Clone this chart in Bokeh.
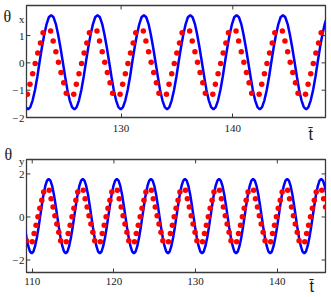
from bokeh.plotting import figure
from bokeh.models import Range1d, LinearAxis, FixedTicker, Label
from bokeh.layouts import column
from bokeh.embed import file_html
from bokeh.resources import INLINE

# ---------------- data: top panel (theta_x) ----------------
tx_blue = [
    121.46, 121.67, 121.87, 122.08, 122.29, 122.50, 122.70, 122.91, 123.12, 123.33, 123.53,
    123.74, 123.95, 124.16, 124.36, 124.57, 124.78, 124.99, 125.19, 125.40, 125.61,
    125.82, 126.02, 126.23, 126.44, 126.65, 126.85, 127.06, 127.27, 127.48, 127.68,
    127.89, 128.10, 128.31, 128.51, 128.72, 128.93, 129.14, 129.34, 129.55, 129.76,
    129.97, 130.17, 130.38, 130.59, 130.80, 131.00, 131.21, 131.42, 131.63, 131.83,
    132.04, 132.25, 132.46, 132.66, 132.87, 133.08, 133.29, 133.49, 133.70, 133.91,
    134.12, 134.32, 134.53, 134.74, 134.95, 135.15, 135.36, 135.57, 135.78, 135.98,
    136.19, 136.40, 136.61, 136.81, 137.02, 137.23, 137.44, 137.64, 137.85, 138.06,
    138.27, 138.47, 138.68, 138.89, 139.10, 139.30, 139.51, 139.72, 139.93, 140.13,
    140.34, 140.55, 140.76, 140.96, 141.17, 141.38, 141.59, 141.79, 142.00, 142.21,
    142.42, 142.62, 142.83, 143.04, 143.25, 143.45, 143.66, 143.87, 144.08, 144.28,
    144.49, 144.70, 144.91, 145.11, 145.32, 145.53, 145.74, 145.94, 146.15, 146.36,
    146.57, 146.77, 146.98, 147.19, 147.40, 147.60, 147.81, 148.02, 148.23, 148.43,
]
thx_blue = [
    -1.62, -1.70, -1.62, -1.37, -0.99, -0.51, 0.03, 0.56, 1.04, 1.42, 1.67,
    1.75, 1.67, 1.42, 1.04, 0.56, 0.03, -0.51, -0.99, -1.37, -1.62,
    -1.70, -1.62, -1.37, -0.99, -0.51, 0.03, 0.56, 1.04, 1.42, 1.67,
    1.75, 1.67, 1.42, 1.04, 0.56, 0.03, -0.51, -0.99, -1.37, -1.62,
    -1.70, -1.62, -1.37, -0.99, -0.51, 0.03, 0.56, 1.04, 1.42, 1.67,
    1.75, 1.67, 1.42, 1.04, 0.56, 0.03, -0.51, -0.99, -1.37, -1.62,
    -1.70, -1.62, -1.37, -0.99, -0.51, 0.03, 0.56, 1.04, 1.42, 1.67,
    1.75, 1.67, 1.42, 1.04, 0.56, 0.03, -0.51, -0.99, -1.37, -1.62,
    -1.70, -1.62, -1.37, -0.99, -0.51, 0.03, 0.56, 1.04, 1.42, 1.67,
    1.75, 1.67, 1.42, 1.04, 0.56, 0.03, -0.51, -0.99, -1.37, -1.62,
    -1.70, -1.62, -1.37, -0.99, -0.51, 0.03, 0.56, 1.04, 1.42, 1.67,
    1.75, 1.67, 1.42, 1.04, 0.56, 0.03, -0.51, -0.99, -1.37, -1.62,
    -1.70, -1.62, -1.37, -0.99, -0.51, 0.03, 0.56, 1.04, 1.42, 1.67,
]
tx_red = [
    121.61, 121.84, 122.08, 122.31, 122.54, 122.78, 123.01, 123.69, 123.92, 124.16, 124.39, 124.62, 124.86, 125.09,
    125.76, 125.99, 126.23, 126.46, 126.69, 126.93, 127.16, 127.84, 128.07, 128.31, 128.54, 128.77, 129.01, 129.24,
    129.91, 130.14, 130.38, 130.61, 130.84, 131.08, 131.31, 131.99, 132.22, 132.46, 132.69, 132.92, 133.16, 133.39,
    134.06, 134.29, 134.53, 134.76, 134.99, 135.23, 135.46, 136.14, 136.37, 136.61, 136.84, 137.07, 137.31, 137.54,
    138.21, 138.44, 138.68, 138.91, 139.14, 139.38, 139.61, 140.29, 140.52, 140.76, 140.99, 141.22, 141.46, 141.69,
    142.36, 142.59, 142.83, 143.06, 143.29, 143.53, 143.76, 144.44, 144.67, 144.91, 145.14, 145.37, 145.61, 145.84,
    146.51, 146.74, 146.98, 147.21, 147.44, 147.68, 147.91,
]
thx_red = [
    -1.15, -0.78, -0.40, -0.02, 0.36, 0.73, 1.10, 1.17, 0.80, 0.41, 0.02, -0.35, -0.73, -1.11,
    -1.15, -0.78, -0.40, -0.02, 0.36, 0.73, 1.10, 1.17, 0.80, 0.41, 0.02, -0.35, -0.73, -1.11,
    -1.15, -0.78, -0.40, -0.02, 0.36, 0.73, 1.10, 1.17, 0.80, 0.41, 0.02, -0.35, -0.73, -1.11,
    -1.15, -0.78, -0.40, -0.02, 0.36, 0.73, 1.10, 1.17, 0.80, 0.41, 0.02, -0.35, -0.73, -1.11,
    -1.15, -0.78, -0.40, -0.02, 0.36, 0.73, 1.10, 1.17, 0.80, 0.41, 0.02, -0.35, -0.73, -1.11,
    -1.15, -0.78, -0.40, -0.02, 0.36, 0.73, 1.10, 1.17, 0.80, 0.41, 0.02, -0.35, -0.73, -1.11,
    -1.15, -0.78, -0.40, -0.02, 0.36, 0.73, 1.10,
]

# ---------------- data: bottom panel (theta_y) ----------------
ty_blue = [
    109.10, 109.31, 109.52, 109.73, 109.94, 110.14, 110.35, 110.56, 110.77, 110.98, 111.19, 111.39, 111.60, 111.81,
    112.02, 112.23, 112.44, 112.65, 112.85, 113.06, 113.27, 113.48, 113.69, 113.90,
    114.11, 114.31, 114.52, 114.73, 114.94, 115.15, 115.36, 115.56, 115.77, 115.98,
    116.19, 116.40, 116.61, 116.82, 117.02, 117.23, 117.44, 117.65, 117.86, 118.07,
    118.28, 118.48, 118.69, 118.90, 119.11, 119.32, 119.53, 119.73, 119.94, 120.15,
    120.36, 120.57, 120.78, 120.99, 121.19, 121.40, 121.61, 121.82, 122.03, 122.24,
    122.45, 122.65, 122.86, 123.07, 123.28, 123.49, 123.70, 123.90, 124.11, 124.32,
    124.53, 124.74, 124.95, 125.16, 125.36, 125.57, 125.78, 125.99, 126.20, 126.41,
    126.62, 126.82, 127.03, 127.24, 127.45, 127.66, 127.87, 128.07, 128.28, 128.49,
    128.70, 128.91, 129.12, 129.33, 129.53, 129.74, 129.95, 130.16, 130.37, 130.58,
    130.79, 130.99, 131.20, 131.41, 131.62, 131.83, 132.04, 132.24, 132.45, 132.66,
    132.87, 133.08, 133.29, 133.50, 133.70, 133.91, 134.12, 134.33, 134.54, 134.75,
    134.96, 135.16, 135.37, 135.58, 135.79, 136.00, 136.21, 136.41, 136.62, 136.83,
    137.04, 137.25, 137.46, 137.67, 137.87, 138.08, 138.29, 138.50, 138.71, 138.92,
    139.13, 139.33, 139.54, 139.75, 139.96, 140.17, 140.38, 140.58, 140.79, 141.00,
    141.21, 141.42, 141.63, 141.84, 142.04, 142.25, 142.46, 142.67, 142.88, 143.09,
    143.30, 143.50, 143.71, 143.92, 144.13, 144.34, 144.55, 144.75, 144.96, 145.17,
    145.38, 145.59, 145.80, 146.01,
]
thy_blue = [
    -0.50, -0.98, -1.36, -1.61, -1.69, -1.61, -1.36, -0.98, -0.50, 0.04, 0.58, 1.06, 1.44, 1.69,
    1.77, 1.69, 1.44, 1.06, 0.58, 0.04, -0.50, -0.98, -1.36, -1.61,
    -1.69, -1.61, -1.36, -0.98, -0.50, 0.04, 0.58, 1.06, 1.44, 1.69,
    1.77, 1.69, 1.44, 1.06, 0.58, 0.04, -0.50, -0.98, -1.36, -1.61,
    -1.69, -1.61, -1.36, -0.98, -0.50, 0.04, 0.58, 1.06, 1.44, 1.69,
    1.77, 1.69, 1.44, 1.06, 0.58, 0.04, -0.50, -0.98, -1.36, -1.61,
    -1.69, -1.61, -1.36, -0.98, -0.50, 0.04, 0.58, 1.06, 1.44, 1.69,
    1.77, 1.69, 1.44, 1.06, 0.58, 0.04, -0.50, -0.98, -1.36, -1.61,
    -1.69, -1.61, -1.36, -0.98, -0.50, 0.04, 0.58, 1.06, 1.44, 1.69,
    1.77, 1.69, 1.44, 1.06, 0.58, 0.04, -0.50, -0.98, -1.36, -1.61,
    -1.69, -1.61, -1.36, -0.98, -0.50, 0.04, 0.58, 1.06, 1.44, 1.69,
    1.77, 1.69, 1.44, 1.06, 0.58, 0.04, -0.50, -0.98, -1.36, -1.61,
    -1.69, -1.61, -1.36, -0.98, -0.50, 0.04, 0.58, 1.06, 1.44, 1.69,
    1.77, 1.69, 1.44, 1.06, 0.58, 0.04, -0.50, -0.98, -1.36, -1.61,
    -1.69, -1.61, -1.36, -0.98, -0.50, 0.04, 0.58, 1.06, 1.44, 1.69,
    1.77, 1.69, 1.44, 1.06, 0.58, 0.04, -0.50, -0.98, -1.36, -1.61,
    -1.69, -1.61, -1.36, -0.98, -0.50, 0.04, 0.58, 1.06, 1.44, 1.69,
    1.77, 1.69, 1.44, 1.06,
]
ty_red = [
    109.31,
    110.00, 110.23, 110.47, 110.70, 110.93, 111.17, 111.40, 112.08, 112.31, 112.55, 112.78, 113.01, 113.25, 113.48,
    114.17, 114.40, 114.64, 114.87, 115.10, 115.34, 115.57, 116.25, 116.48, 116.72, 116.95, 117.18, 117.42, 117.65,
    118.34, 118.57, 118.81, 119.04, 119.27, 119.51, 119.74, 120.42, 120.65, 120.89, 121.12, 121.35, 121.59, 121.82,
    122.51, 122.74, 122.98, 123.21, 123.44, 123.68, 123.91, 124.59, 124.82, 125.06, 125.29, 125.52, 125.76, 125.99,
    126.68, 126.91, 127.15, 127.38, 127.61, 127.85, 128.08, 128.76, 128.99, 129.23, 129.46, 129.69, 129.93, 130.16,
    130.85, 131.08, 131.32, 131.55, 131.78, 132.02, 132.25, 132.93, 133.16, 133.40, 133.63, 133.86, 134.10, 134.33,
    135.02, 135.25, 135.49, 135.72, 135.95, 136.19, 136.42, 137.10, 137.33, 137.57, 137.80, 138.03, 138.27, 138.50,
    139.19, 139.42, 139.66, 139.89, 140.12, 140.36, 140.59, 141.27, 141.50, 141.74, 141.97, 142.20, 142.44, 142.67,
    143.36, 143.59, 143.83, 144.06, 144.29, 144.53, 144.76, 145.44, 145.67, 145.91,
]
thy_red = [
    -1.10,
    -1.15, -0.77, -0.38, 0.01, 0.40, 0.78, 1.16, 1.24, 0.85, 0.46, 0.06, -0.33, -0.71, -1.10,
    -1.15, -0.77, -0.38, 0.01, 0.40, 0.78, 1.16, 1.24, 0.85, 0.46, 0.06, -0.33, -0.71, -1.10,
    -1.15, -0.77, -0.38, 0.01, 0.40, 0.78, 1.16, 1.24, 0.85, 0.46, 0.06, -0.33, -0.71, -1.10,
    -1.15, -0.77, -0.38, 0.01, 0.40, 0.78, 1.16, 1.24, 0.85, 0.46, 0.06, -0.33, -0.71, -1.10,
    -1.15, -0.77, -0.38, 0.01, 0.40, 0.78, 1.16, 1.24, 0.85, 0.46, 0.06, -0.33, -0.71, -1.10,
    -1.15, -0.77, -0.38, 0.01, 0.40, 0.78, 1.16, 1.24, 0.85, 0.46, 0.06, -0.33, -0.71, -1.10,
    -1.15, -0.77, -0.38, 0.01, 0.40, 0.78, 1.16, 1.24, 0.85, 0.46, 0.06, -0.33, -0.71, -1.10,
    -1.15, -0.77, -0.38, 0.01, 0.40, 0.78, 1.16, 1.24, 0.85, 0.46, 0.06, -0.33, -0.71, -1.10,
    -1.15, -0.77, -0.38, 0.01, 0.40, 0.78, 1.16, 1.24, 0.85, 0.46,
]

# ticks / ranges / axis names
top_xticks = [130, 140]
top_yticks = [-2, -1, 0, 1]
top_ylabels = {-2: "\u2212\u200a2", -1: "\u2212\u200a1", 0: "0", 1: "1"}
bot_xticks = [110, 120, 130, 140]
bot_yticks = [-2, 0, 2]
bot_ylabels = {-2: "\u2212\u200a2", 0: "0", 2: "2"}
top_xrange = (121.53, 148.3)
top_yrange = (-2.0, 2.1)
bot_xrange = (109.3, 145.9)
bot_yrange = (-2.58, 2.67)
top_name, top_sub, top_sub_at = "\u03b8", "x", 1.6
bot_name, bot_sub, bot_sub_at = "\u03b8", "y", 2.6
time_name = "t\u0304"

FRAME = "#3a3a3a"
TXT = "#1a1a1a"
SERIF = "Liberation Serif"
SANS = "Liberation Sans"
W = 331
BL, BR = 22, 6
FW = W - BL - BR
TICK = 4


def axis(ticks, overrides, standoff, tick_color=FRAME):
    ax = LinearAxis(ticker=FixedTicker(ticks=ticks))
    ax.axis_line_color = None
    ax.major_tick_in = TICK
    ax.major_tick_out = 0
    ax.major_tick_line_color = tick_color
    ax.major_tick_line_width = 1
    ax.minor_tick_line_color = None
    ax.major_label_text_font = SERIF
    ax.major_label_text_font_size = "11px"
    ax.major_label_text_color = TXT
    ax.major_label_standoff = standoff
    if overrides:
        ax.major_label_overrides = overrides
    return ax


def make_fig(height, xr, yr, mbt, mbb, xt, yt, ylab, xstand, sub, sub_at):
    fh = height - mbt - mbb
    p = figure(width=W, height=height, x_range=Range1d(*xr), y_range=Range1d(*yr),
               output_backend="svg", toolbar_location=None,
               x_axis_location=None, y_axis_location=None,
               min_border_left=BL, min_border_right=BR,
               min_border_top=mbt, min_border_bottom=mbb)
    p.grid.visible = False
    p.outline_line_color = FRAME
    p.outline_line_width = 1.3
    p.background_fill_color = "white"
    p.border_fill_color = "white"
    p.add_layout(axis(xt, None, xstand), "below")
    labels = dict(ylab)
    labels[sub_at] = sub          # subscript of the axis name sits in the label column
    p.add_layout(axis(list(yt) + [sub_at], labels, 2, tick_color=None), "left")
    dy = TICK * (yr[1] - yr[0]) / fh
    dx = TICK * (xr[1] - xr[0]) / FW
    # inward ticks: top and right mirrors, and the left ticks
    p.segment(x0=xt, x1=xt, y0=[yr[1]] * len(xt), y1=[yr[1] - dy] * len(xt),
              line_color=FRAME, line_width=1)
    p.segment(x0=[xr[1]] * len(yt), x1=[xr[1] - dx] * len(yt), y0=yt, y1=yt,
              line_color=FRAME, line_width=1)
    p.segment(x0=[xr[0]] * len(yt), x1=[xr[0] + dx] * len(yt), y0=yt, y1=yt,
              line_color=FRAME, line_width=1)
    return p


def side_label(p, side, text, x, y, font, size):
    p.add_layout(Label(x=x, y=y, x_units="screen", y_units="screen", text=text,
                       text_font=font, text_font_size=size, text_color=TXT,
                       text_baseline="top", text_align="left"), side)


# top panel
p1 = make_fig(142, top_xrange, top_yrange, 5, 25, top_xticks, top_yticks, top_ylabels, 7,
              top_sub, top_sub_at)
p1.line(tx_blue, thx_blue, line_color="#0000ff", line_width=2.5)
p1.scatter(tx_red, thx_red, size=5.5, fill_color="#ff0000", line_color=None)
side_label(p1, "left", top_name, 3, 110, SERIF, "16px")
side_label(p1, "right", time_name, -17, -8, SANS, "16px")

# bottom panel
p2 = make_fig(155, bot_xrange, bot_yrange, 16, 25, bot_xticks, bot_yticks, bot_ylabels, 5,
              bot_sub, bot_sub_at)
p2.line(ty_blue, thy_blue, line_color="#0000ff", line_width=2.5)
p2.scatter(ty_red, thy_red, size=5.5, fill_color="#ff0000", line_color=None)
side_label(p2, "above", bot_name, -22, 14, SERIF, "16px")
side_label(p2, "right", time_name, -16, -5, SANS, "16px")

layout = column(p1, p2, spacing=0)
open("out.html", "w").write(file_html(layout, INLINE))
